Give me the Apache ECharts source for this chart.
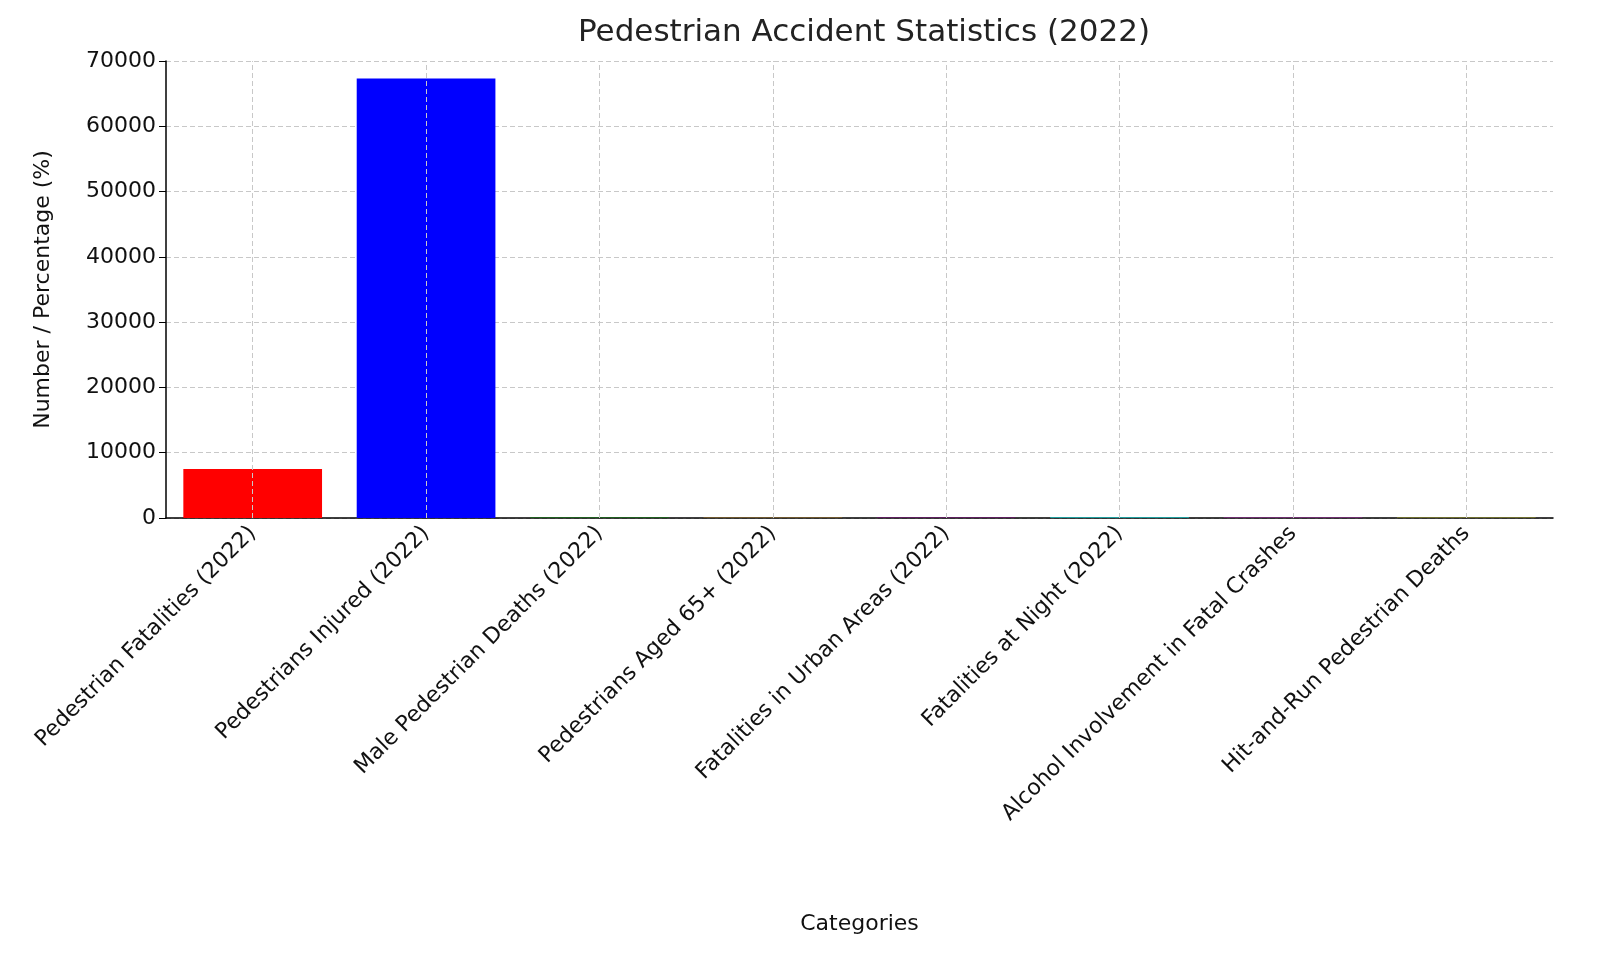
<!DOCTYPE html>
<html><head><meta charset="utf-8">
<script src="https://cdn.jsdelivr.net/npm/echarts@6/dist/echarts.min.js"></script>
<style>html,body{margin:0;padding:0;background:#fff}#c{width:1600px;height:962px}</style>
</head><body><div id="c"></div>
<script>
const categories = ["Pedestrian Fatalities (2022)","Pedestrians Injured (2022)","Male Pedestrian Deaths (2022)","Pedestrians Aged 65+ (2022)","Fatalities in Urban Areas (2022)","Fatalities at Night (2022)","Alcohol Involvement in Fatal Crashes","Hit-and-Run Pedestrian Deaths"];
const values = [7522, 67336, 70, 20, 84, 77, 47, 20];
const colors = ["#ff0000","#0000ff","#008000","#ffa500","#800080","#00ffff","#ff00ff","#ffff00"];
const yTicks = [0,10000,20000,30000,40000,50000,60000,70000];
const font = "DejaVu Sans";
const chart = echarts.init(document.getElementById('c'));
chart.setOption({
  animation:false,
  textStyle:{fontFamily:font},
  title:{text:"Pedestrian Accident Statistics (2022)",left:859,textAlign:'center',top:12,textStyle:{fontFamily:font,fontSize:31,fontWeight:'normal',color:'#222'}},
  grid:{left:166,right:47,top:61,bottom:444,containLabel:false,outerBoundsMode:'none'},
  xAxis:{type:'category',data:categories,
    axisLine:{onZero:false,lineStyle:{color:'#000',width:1.5}},
    axisTick:{alignWithLabel:true,length:7,lineStyle:{color:'#000'}},
    axisLabel:{rotate:45,fontSize:22,color:'#111',interval:0,margin:12,fontFamily:font},
    splitLine:{show:false},
    name:'Categories',nameLocation:'middle',nameGap:395,nameTextStyle:{fontSize:22,color:'#111',fontFamily:font}},
  yAxis:{type:'value',min:0,max:70000,interval:10000,
    axisLine:{show:true,onZero:false,lineStyle:{color:'#000',width:1.5}},
    axisTick:{show:true,length:7,lineStyle:{color:'#000'}},
    axisLabel:{fontSize:22,color:'#111',fontFamily:font,margin:10,formatter:v=>yTicks.includes(v)?String(v):''},
    splitLine:{lineStyle:{color:'#c8c8c8',type:[5,3]}},
    name:'Number / Percentage (%)',nameLocation:'middle',nameGap:112,nameTextStyle:{fontSize:22,color:'#111',fontFamily:font}},
  series:[{type:'bar',barWidth:'80%',
    data:values.map((v,i)=>({value:v,itemStyle:{color:colors[i]}})),
    markLine:{silent:true,symbol:'none',label:{show:false},z:5,
      lineStyle:{color:'#c8c8c8',type:[5,3],width:1},
      data:categories.map(c=>({xAxis:c}))}}]
});
</script></body></html>
